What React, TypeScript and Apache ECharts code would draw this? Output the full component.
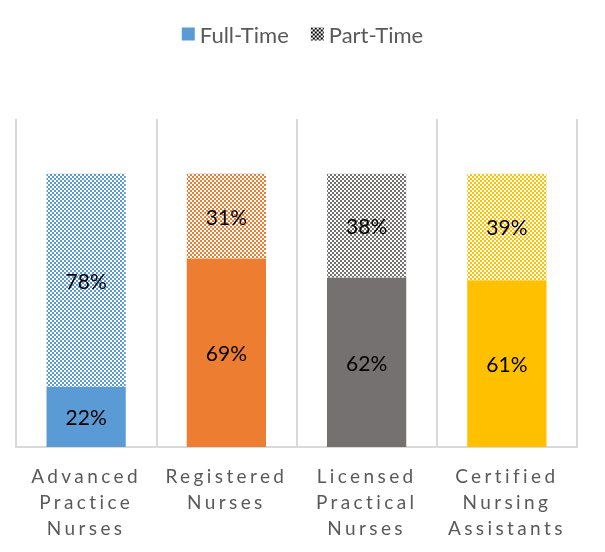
import React, { useEffect, useRef } from "react";
import * as echarts from "echarts";

const categories = [
  "Advanced\nPractice\nNurses",
  "Registered\nNurses",
  "Licensed\nPractical\nNurses",
  "Certified\nNursing\nAssistants",
];
const fullTime = [22, 69, 62, 61];
const partTime = [78, 31, 38, 39];
const barColors = ["#5B9BD5", "#ED7D31", "#767171", "#FFC000"];
const legendNames = ["Full-Time", "Part-Time"];

function makePattern(color: string) {
  const c = document.createElement("canvas");
  c.width = 4;
  c.height = 4;
  const ctx = c.getContext("2d")!;
  ctx.fillStyle = "#ffffff";
  ctx.fillRect(0, 0, 4, 4);
  ctx.fillStyle = color;
  ctx.fillRect(0, 0, 2, 2);
  ctx.fillRect(2, 2, 2, 2);
  return { image: c, repeat: "repeat", imageWidth: 4, imageHeight: 4 } as any;
}

export default function App() {
  const ref = useRef<HTMLDivElement>(null);
  useEffect(() => {
    if (!ref.current) return;
    const chart = echarts.init(ref.current, undefined, { renderer: "svg" });
    const font = "Lato, 'Open Sans', sans-serif";
    chart.setOption({
      animation: false,
      legend: {
        top: 18,
        left: "center",
        itemWidth: 13,
        itemHeight: 13,
        itemGap: 22,
        textStyle: { color: "#595959", fontSize: 22, fontFamily: font },
        data: [
          { name: legendNames[0], icon: "rect", itemStyle: { color: barColors[0] } },
          { name: legendNames[1], icon: "rect", itemStyle: { color: makePattern("#000000") } },
        ],
      },
      grid: { left: 16, right: 28, top: 119, bottom: 105 },
      xAxis: {
        type: "category",
        data: categories,
        axisLine: { show: true, lineStyle: { color: "#d9d9d9", width: 2 } },
        axisTick: { show: false },
        splitLine: { show: true, interval: 0, lineStyle: { color: "#d9d9d9", width: 2 } },
        axisLabel: {
          interval: 0,
          margin: 15,
          color: "#595959",
          fontSize: 19,
          lineHeight: 26,
          fontFamily: font,
        },
      },
      yAxis: {
        type: "value",
        min: 0,
        max: 120,
        show: false,
        splitLine: { show: false },
      },
      series: [
        {
          name: legendNames[0],
          type: "bar",
          stack: "total",
          barWidth: "56.5%",
          data: fullTime.map((v, i) => ({ value: v, itemStyle: { color: barColors[i] } })),
          label: {
            show: true,
            position: "inside",
            formatter: "{c}%",
            color: "#000000",
            fontSize: 21,
            fontFamily: font,
          },
        },
        {
          name: legendNames[1],
          type: "bar",
          stack: "total",
          barWidth: "56.5%",
          data: partTime.map((v, i) => ({ value: v, itemStyle: { color: makePattern(barColors[i]) } })),
          label: {
            show: true,
            position: "inside",
            formatter: "{c}%",
            color: "#000000",
            fontSize: 21,
            fontFamily: font,
          },
        },
      ],
    });
    const words = new Set(categories.join("\n").split("\n"));
    const applySpacing = () => {
      ref.current?.querySelectorAll("text").forEach((t) => {
        if (words.has((t.textContent || "").trim())) {
          (t as SVGTextElement).style.letterSpacing = "3.4px";
        }
      });
    };
    applySpacing();
    chart.on("finished", applySpacing);
    return () => chart.dispose();
  }, []);
  return (
    <div
      ref={ref}
      style={{ position: "fixed", left: 0, top: 0, width: 605, height: 552 }}
    />
  );
}
